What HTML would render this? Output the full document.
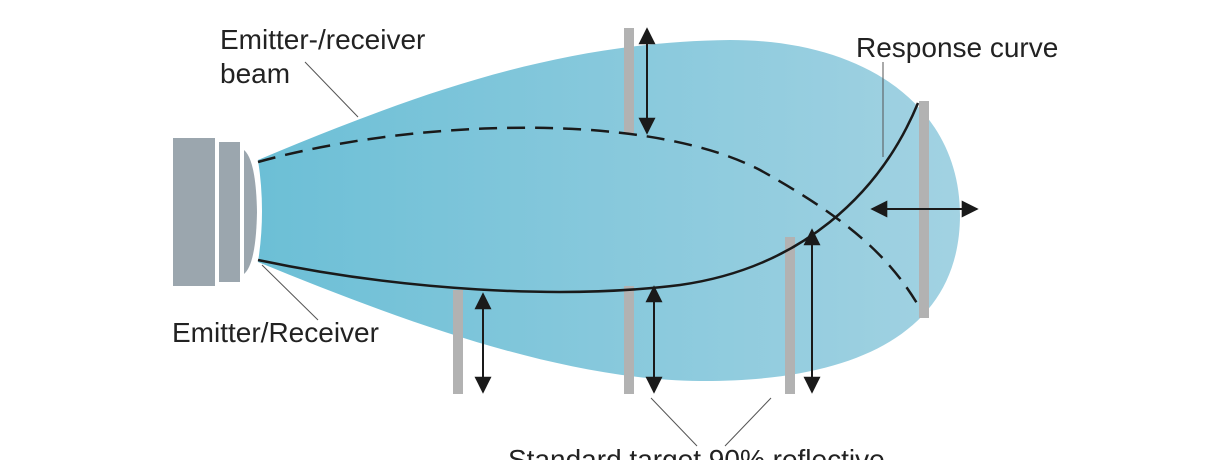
<!DOCTYPE html>
<html><head><meta charset="utf-8"><style>
html,body{margin:0;padding:0;background:#fff;}
svg{display:block;}
text{font-family:"Liberation Sans",sans-serif;font-size:28px;fill:#222;}
</style></head><body>
<svg width="1232" height="460" viewBox="0 0 1232 460" xmlns="http://www.w3.org/2000/svg">
<defs>
<linearGradient id="g" x1="258" y1="0" x2="960" y2="0" gradientUnits="userSpaceOnUse">
<stop offset="0" stop-color="#6cbfd6"/><stop offset="1" stop-color="#a2d2e2"/>
</linearGradient>
<marker id="ah" viewBox="0 0 10 10" refX="9" refY="5" markerWidth="20" markerHeight="17" markerUnits="userSpaceOnUse" orient="auto-start-reverse">
<path d="M0,0 L10,5 L0,10 Z" fill="#1a1a1a"/></marker>
</defs>
<path d="M258,160 C 420,92 560,42 730,40 C 870,40 960,110 960,215 C 960,330 860,382 700,381 C 560,380 400,320 258,262 Q 266,211 258,160 Z" fill="url(#g)"/>
<rect x="173" y="138" width="42" height="148" fill="#9ba6ae"/>
<rect x="219" y="142" width="21" height="140" fill="#9ba6ae"/>
<path d="M244,150 Q 256,160 257,212 Q 256,264 244,274 Z" fill="#9ba6ae"/>
<g fill="#b2b2b2">
<rect x="624" y="28" width="10" height="105"/>
<rect x="453" y="290" width="10" height="104"/>
<rect x="624" y="286" width="10" height="108"/>
<rect x="785" y="237" width="10" height="157"/>
<rect x="919" y="101" width="10" height="217"/>
</g>
<path d="M258,162 C 400,122 640,108 760,170 C 850,220 890,258 918,305" fill="none" stroke="#1a1a1a" stroke-width="2.5" stroke-dasharray="18,10"/>
<path d="M258,260 C 400,290 560,300 680,285 C 800,268 880,195 918,103" fill="none" stroke="#1a1a1a" stroke-width="2.5"/>
<g stroke="#1a1a1a" stroke-width="2" marker-start="url(#ah)" marker-end="url(#ah)">
<line x1="647" y1="29" x2="647" y2="133"/>
<line x1="483" y1="294" x2="483" y2="392"/>
<line x1="654" y1="287" x2="654" y2="392"/>
<line x1="812" y1="230" x2="812" y2="392"/>
<line x1="872" y1="209" x2="977" y2="209"/>
</g>
<g stroke="#555" stroke-width="1">
<line x1="305" y1="62" x2="358" y2="117"/>
<line x1="883" y1="62" x2="883" y2="157"/>
<line x1="262" y1="265" x2="318" y2="320"/>
<line x1="651" y1="398" x2="697" y2="446"/>
<line x1="771" y1="398" x2="725" y2="446"/>
</g>
<text x="220" y="49">Emitter-/receiver</text>
<text x="220" y="83">beam</text>
<text x="856" y="57">Response curve</text>
<text x="172" y="342">Emitter/Receiver</text>
<text x="508" y="469">Standard target 90% reflective</text>
</svg>
</body></html>
